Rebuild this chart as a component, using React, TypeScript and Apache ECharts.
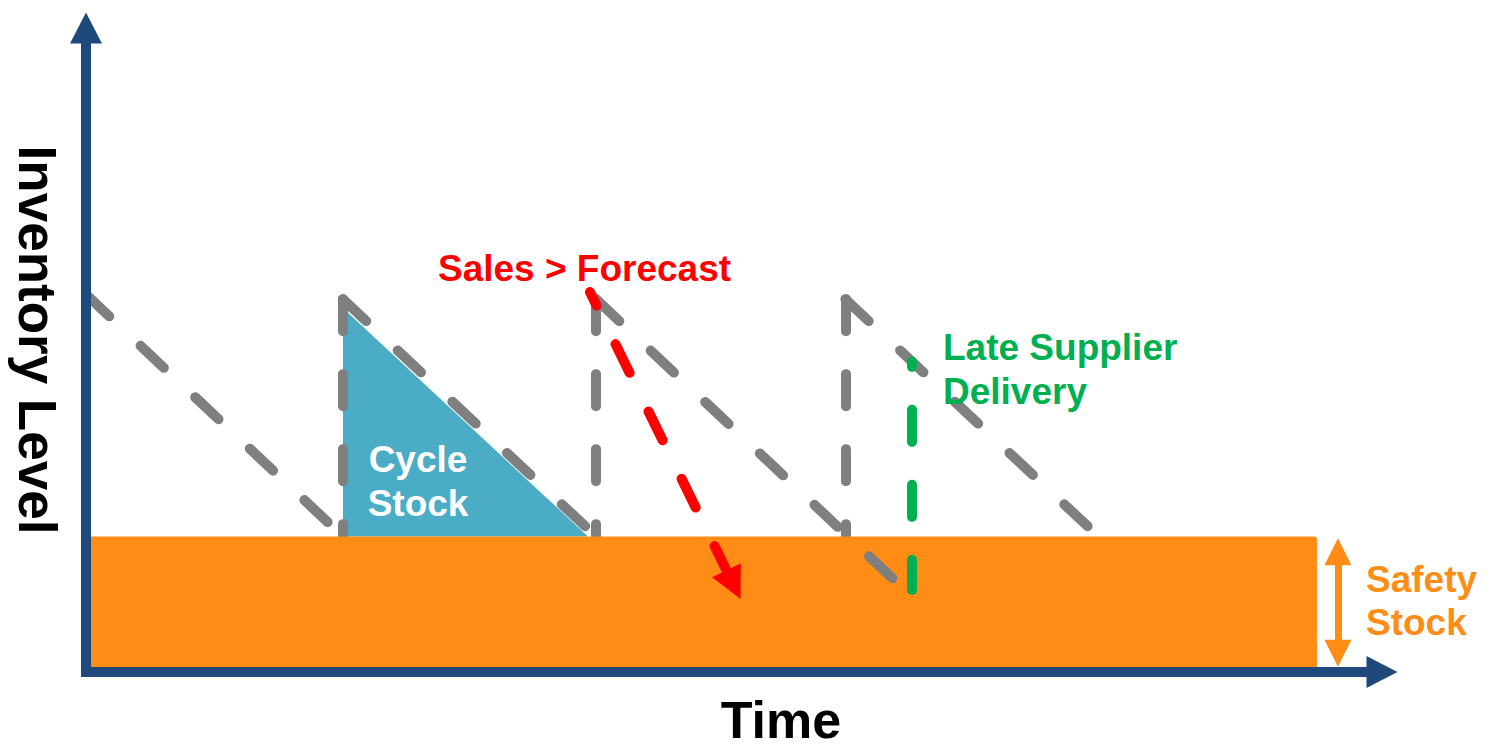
import React, { useEffect, useRef } from "react";
import * as echarts from "echarts";

// Axis ranges (time units, inventory units)
const TIME_MAX = 51.2;
const LEVEL_MAX = 190;

// Safety stock band: [tStart, levelBottom, tEnd, levelTop]
const safetyStockBand = [0, 0, 48.63, 40];
// Cycle stock triangle (t, level) x3
const cycleStockArea = [10.15, 107.4, 10.15, 40, 19.83, 40];
// Inventory consumption (sloping) segments
const consumptionLines = [
  [[0, 111.4], [10.15, 40]],
  [[10.15, 110], [20.15, 40]],
  [[20.15, 110], [31.95, 27]],
  [[30, 110], [40, 40]],
];
// Replenishment (vertical) segments
const replenishmentLines = [
  [[10.15, 110], [10.15, 40]],
  [[20.15, 110], [20.15, 40]],
  [[30, 110], [30, 40]],
];
// Sales > Forecast (red) and Late Supplier Delivery (green)
const salesForecastLine = [[19.91, 112.1], [25.58, 25.76]];
const lateDeliveryLine = [[32.63, 91.5], [32.63, 24.2]];
// Safety stock double arrow
const safetyStockArrow = [[49.46, 35.5], [49.46, 5.5]];

const axisTitles = { x: "Time", y: "Inventory Level" };
const labels = {
  sales: "Sales > Forecast",
  late: "Late Supplier\nDelivery",
  cycle: "Cycle\nStock",
  safety: "Safety\nStock",
};

const FONT = '"Liberation Sans", Arial, sans-serif';
const NAVY = "#1F497D";
const ORANGE = "#FF8C14";
const BLUE = "#4BACC6";
const GRAY = "#7F7F7F";
const RED = "#FF0000";
const GREEN = "#00B050";
const DASH = [32, 43];

export default function App() {
  const ref = useRef<HTMLDivElement>(null);
  useEffect(() => {
    if (!ref.current) return;
    const chart = echarts.init(ref.current, undefined, { renderer: "svg" });
    const axisLineCommon = {
      show: true,
      symbol: ["none", "triangle"],
      symbolSize: [32, 31],
      lineStyle: { color: NAVY, width: 10, cap: "square" },
    };
    const option: any = {
      animation: false,
      backgroundColor: "#ffffff",
      grid: {
        left: 86,
        right: 109,
        top: 28,
        bottom: 79,
        containLabel: false,
        outerBoundsMode: "none",
      },
      xAxis: {
        type: "value",
        min: 0,
        max: TIME_MAX,
        z: 10,
        axisLine: axisLineCommon,
        axisTick: { show: false },
        axisLabel: { show: false },
        splitLine: { show: false },
        name: axisTitles.x,
        nameLocation: "middle",
        nameGap: 26,
        nameTextStyle: {
          fontSize: 52,
          fontWeight: "bold",
          fontFamily: FONT,
          color: "#000",
          lineHeight: 44,
          padding: [0, 0, 0, 94],
        },
      },
      yAxis: {
        type: "value",
        min: 0,
        max: LEVEL_MAX,
        z: 10,
        axisLine: axisLineCommon,
        axisTick: { show: false },
        axisLabel: { show: false },
        splitLine: { show: false },
        name: axisTitles.y,
        nameLocation: "middle",
        nameRotate: -90,
        nameGap: 22,
        nameTextStyle: {
          fontSize: 53,
          fontWeight: "bold",
          fontFamily: FONT,
          color: "#000",
          padding: [0, 20, 0, 0],
        },
      },
      series: [
        {
          type: "custom",
          name: "Cycle Stock",
          z: 1,
          data: [cycleStockArea],
          renderItem: (params: any, api: any) => {
            const pts = [0, 1, 2].map((i) =>
              api.coord([api.value(i * 2), api.value(i * 2 + 1)])
            );
            return { type: "polygon", shape: { points: pts }, style: { fill: BLUE } };
          },
        },
        {
          type: "lines",
          name: "Replenishment",
          coordinateSystem: "cartesian2d",
          z: 2,
          symbol: ["none", "none"],
          lineStyle: { color: GRAY, width: 10, type: DASH, cap: "round", opacity: 1 },
          data: replenishmentLines.map((c) => ({ coords: c })),
        },
        {
          type: "custom",
          name: "Safety Stock",
          z: 3,
          data: [safetyStockBand],
          renderItem: (params: any, api: any) => {
            const p0 = api.coord([api.value(0), api.value(3)]);
            const p1 = api.coord([api.value(2), api.value(1)]);
            return {
              type: "rect",
              shape: { x: p0[0], y: p0[1], width: p1[0] - p0[0], height: p1[1] - p0[1], r: 3 },
              style: { fill: ORANGE },
            };
          },
        },
        {
          type: "lines",
          name: "Consumption",
          coordinateSystem: "cartesian2d",
          z: 4,
          symbol: ["none", "none"],
          lineStyle: { color: GRAY, width: 10, type: DASH, cap: "round", opacity: 1 },
          data: consumptionLines.map((c) => ({ coords: c })),
        },
        {
          type: "lines",
          name: "Sales > Forecast",
          coordinateSystem: "cartesian2d",
          z: 5,
          symbol: ["none", "triangle"],
          symbolSize: [1, 32],
          lineStyle: { color: RED, width: 10, type: DASH, dashOffset: 17, cap: "round", opacity: 1 },
          data: [{ coords: salesForecastLine }],
        },
        {
          type: "lines",
          name: "Late Supplier Delivery",
          coordinateSystem: "cartesian2d",
          z: 5,
          symbol: ["none", "none"],
          lineStyle: { color: GREEN, width: 10, type: DASH, dashOffset: 27, cap: "round", opacity: 1 },
          data: [{ coords: lateDeliveryLine }],
        },
        {
          type: "lines",
          name: "Safety Stock Arrow",
          coordinateSystem: "cartesian2d",
          z: 5,
          symbol: ["triangle", "triangle"],
          symbolSize: [27, 27],
          lineStyle: { color: ORANGE, width: 7, type: "solid", opacity: 1 },
          data: [{ coords: safetyStockArrow }],
        },
      ],
      graphic: [
        {
          type: "text",
          x: 438,
          y: 268,
          z: 100,
          style: {
            text: labels.sales,
            fill: RED,
            fontSize: 37,
            fontWeight: "bold",
            fontFamily: FONT,
            align: "left",
            verticalAlign: "middle",
          },
        },
        {
          type: "text",
          x: 943,
          y: 369,
          z: 100,
          style: {
            text: labels.late,
            fill: GREEN,
            fontSize: 37,
            fontWeight: "bold",
            fontFamily: FONT,
            lineHeight: 44,
            align: "left",
            verticalAlign: "middle",
          },
        },
        {
          type: "text",
          x: 418,
          y: 481,
          z: 100,
          style: {
            text: labels.cycle,
            fill: "#ffffff",
            fontSize: 37,
            fontWeight: "bold",
            fontFamily: FONT,
            lineHeight: 44,
            align: "center",
            verticalAlign: "middle",
          },
        },
        {
          type: "text",
          x: 1366,
          y: 601,
          z: 100,
          style: {
            text: labels.safety,
            fill: ORANGE,
            fontSize: 37,
            fontWeight: "bold",
            fontFamily: FONT,
            lineHeight: 43,
            align: "left",
            verticalAlign: "middle",
          },
        },
      ],
    };
    chart.setOption(option);
    return () => chart.dispose();
  }, []);
  return (
    <div
      ref={ref}
      style={{ position: "fixed", left: 0, top: 0, width: 1491, height: 751, background: "#fff" }}
    />
  );
}
